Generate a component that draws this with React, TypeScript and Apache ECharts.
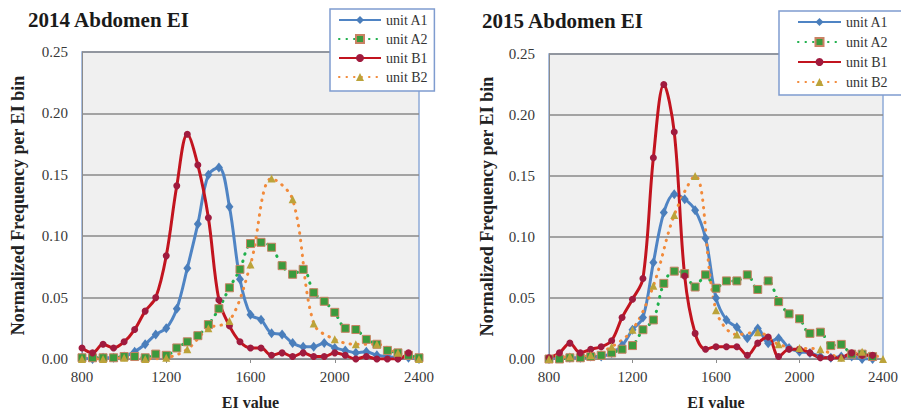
import React, { useEffect, useRef } from "react";
import * as echarts from "echarts";

// Bin centers (EI value)
const xs50 = [800, 850, 900, 950, 1000, 1050, 1100, 1150, 1200, 1250, 1300, 1350, 1400, 1450, 1500, 1550, 1600, 1650, 1700, 1750, 1800, 1850, 1900, 1950, 2000, 2050, 2100, 2150, 2200, 2250, 2300, 2350, 2400];
const xs100 = [800, 900, 1000, 1100, 1200, 1300, 1400, 1500, 1600, 1700, 1800, 1900, 2000, 2100, 2200, 2300, 2400];

const seriesNames = ["unit A1", "unit A2", "unit B1", "unit B2"];
const titles = ["2014 Abdomen EI", "2015 Abdomen EI"];
const xTicks = [800, 1200, 1600, 2000, 2400];
const yTicks = [0, 0.05, 0.1, 0.15, 0.2, 0.25];

// 2014
const a1_2014 = [0.001, 0.000, 0.001, 0.001, 0.002, 0.006, 0.012, 0.020, 0.025, 0.041, 0.074, 0.110, 0.150, 0.156, 0.124, 0.065, 0.036, 0.032, 0.021, 0.020, 0.013, 0.010, 0.010, 0.013, 0.009, 0.007, 0.005, 0.006, 0.003, 0.002, 0.001, 0.001, 0.000];
const a2_2014 = [0.001, 0.001, 0.001, 0.001, 0.002, 0.002, 0.001, 0.004, 0.003, 0.009, 0.014, 0.019, 0.028, 0.041, 0.058, 0.073, 0.094, 0.095, 0.091, 0.076, 0.069, 0.073, 0.054, 0.047, 0.038, 0.025, 0.024, 0.016, 0.012, 0.007, 0.005, 0.003, 0.001];
const b1_2014 = [0.009, 0.005, 0.012, 0.009, 0.014, 0.024, 0.039, 0.050, 0.084, 0.141, 0.183, 0.158, 0.115, 0.048, 0.027, 0.014, 0.009, 0.009, 0.003, 0.005, 0.002, 0.005, 0.002, 0.002, 0.005, 0.003, 0.000, 0.002, 0.000, 0.000, 0.000, 0.005];
const b2_2014 = [0.000, 0.000, 0.001, 0.000, 0.001, 0.008, 0.025, 0.031, 0.077, 0.147, 0.130, 0.029, 0.016, 0.012, 0.012, 0.005, 0.000];

// 2015
const a1_2015 = [0.000, 0.001, 0.001, 0.001, 0.002, 0.002, 0.005, 0.011, 0.024, 0.034, 0.079, 0.120, 0.135, 0.131, 0.122, 0.099, 0.050, 0.032, 0.026, 0.017, 0.025, 0.013, 0.017, 0.009, 0.006, 0.005, 0.002, 0.001, 0.002, 0.002, 0.000, 0.000];
const a2_2015 = [0.000, 0.000, 0.001, 0.001, 0.002, 0.003, 0.005, 0.008, 0.011, 0.024, 0.032, 0.062, 0.072, 0.070, 0.059, 0.069, 0.058, 0.064, 0.064, 0.069, 0.057, 0.064, 0.047, 0.037, 0.033, 0.021, 0.022, 0.011, 0.012, 0.004, 0.004, 0.002];
const b1_2015 = [0.001, 0.005, 0.013, 0.005, 0.008, 0.010, 0.015, 0.034, 0.049, 0.066, 0.165, 0.225, 0.186, 0.068, 0.021, 0.008, 0.010, 0.010, 0.010, 0.003, 0.013, 0.018, 0.002, 0.008, 0.008, 0.005, 0.001, 0.001, 0.001, 0.005, 0.003, 0.003];
const b2_2015 = [0.000, 0.002, 0.003, 0.010, 0.024, 0.060, 0.118, 0.150, 0.040, 0.020, 0.022, 0.012, 0.009, 0.008, 0.001, 0.006, 0.000];

const FONT = "'Liberation Serif', 'Times New Roman', serif";

const pair = (xs: number[], ys: number[]) => ys.map((y, i) => [xs[i], y]);

function makeSeries(idx: number, a1: number[], a2: number[], b1: number[], b2: number[]) {
  const common = {
    type: "line",
    xAxisIndex: idx,
    yAxisIndex: idx,
    smooth: 0.35,
    showSymbol: true,
    animation: false,
    emphasis: { disabled: true },
  };
  return [
    {
      ...common,
      name: seriesNames[0],
      data: pair(xs50, a1),
      symbol: "diamond",
      symbolSize: [8, 10],
      itemStyle: { color: "#4a7ebb" },
      lineStyle: { color: "#4f84c4", width: 3 },
    },
    {
      ...common,
      name: seriesNames[1],
      data: pair(xs50, a2),
      symbol: "rect",
      symbolSize: 8,
      itemStyle: { color: "#3b9a3d", borderColor: "#c98263", borderWidth: 1 },
      lineStyle: { color: "#1fb04c", width: 3, type: [0.5, 7], cap: "round" },
    },
    {
      ...common,
      name: seriesNames[2],
      data: pair(xs50, b1),
      symbol: "circle",
      symbolSize: 7,
      itemStyle: { color: "#a01b3e" },
      lineStyle: { color: "#c2141f", width: 3 },
    },
    {
      ...common,
      name: seriesNames[3],
      data: pair(xs100, b2),
      symbol: "triangle",
      symbolSize: 8,
      itemStyle: { color: "#bba33a" },
      lineStyle: { color: "#f28a3a", width: 3, type: [0.5, 7], cap: "round" },
    },
  ];
}

const grids = [
  { left: 82, top: 52, width: 337, height: 311 },
  { left: 549, top: 54, width: 336, height: 309 },
];

function axisPair(idx: number, yNameGap: number) {
  const xAxis = {
    type: "value",
    gridIndex: idx,
    min: xTicks[0],
    max: xTicks[xTicks.length - 1],
    interval: 400,
    name: "EI value",
    nameLocation: "middle",
    nameGap: 35,
    nameTextStyle: { fontFamily: FONT, fontSize: 16, fontWeight: "bold", color: "#222" },
    axisLine: { show: true, lineStyle: { color: "#8c8c8c", width: 1 } },
    axisTick: { show: true, length: 4, lineStyle: { color: "#8c8c8c" } },
    axisLabel: {
      fontFamily: FONT,
      fontSize: 15,
      color: "#383838",
      margin: 10,
      formatter: (v: number) => String(v),
    },
    splitLine: { show: false },
  };
  const yAxis = {
    type: "value",
    gridIndex: idx,
    min: yTicks[0],
    max: yTicks[yTicks.length - 1],
    interval: 0.05,
    name: "Normalized Frequency per EI bin",
    nameLocation: "middle",
    nameGap: yNameGap,
    nameTextStyle: { fontFamily: FONT, fontSize: 18, fontWeight: "bold", color: "#222" },
    axisLine: { show: true, lineStyle: { color: "#8c8c8c", width: 1 } },
    axisTick: { show: false },
    axisLabel: {
      fontFamily: FONT,
      fontSize: 15,
      color: "#383838",
      margin: 14,
      formatter: (v: number) => v.toFixed(2),
    },
    splitLine: { show: true, lineStyle: { color: "#8a8a8a", width: 1.5 } },
  };
  return { xAxis, yAxis };
}

export default function App() {
  const ref = useRef<HTMLDivElement>(null);
  useEffect(() => {
    if (!ref.current) return;
    const chart = echarts.init(ref.current, undefined, { renderer: "svg" });
    const ax0 = axisPair(0, 55);
    const ax1 = axisPair(1, 53);
    const legendCommon = {
      orient: "vertical",
      data: seriesNames,
      itemHeight: 10,
      backgroundColor: "#ffffff",
      borderColor: "#7f9ccf",
      borderWidth: 1.5,
      borderRadius: 0,
      selectedMode: false,
      textStyle: { fontFamily: FONT, fontSize: 14, color: "#333" },
      z: 10,
    };
    chart.setOption({
      animation: false,
      backgroundColor: "#ffffff",
      title: [
        {
          text: titles[0],
          left: 28,
          top: 9,
          padding: 0,
          textStyle: { fontFamily: FONT, fontSize: 21, fontWeight: "bold", color: "#1a1a1a" },
        },
        {
          text: titles[1],
          left: 482,
          top: 10,
          padding: 0,
          textStyle: { fontFamily: FONT, fontSize: 21, fontWeight: "bold", color: "#1a1a1a" },
        },
      ],
      legend: [
        {
          ...legendCommon,
          left: 330,
          top: 9,
          itemWidth: 42,
          itemGap: 5,
          padding: [4, 6, 7, 8],
        },
        {
          ...legendCommon,
          left: 779,
          top: 11,
          itemWidth: 43,
          itemGap: 6,
          padding: [4, 16, 6, 18],
        },
      ],
      grid: grids.map((g) => ({
        ...g,
        show: true,
        backgroundColor: "#f0f0f0",
        borderColor: "#8eaad8",
        borderWidth: 1.5,
        containLabel: false,
      })),
      xAxis: [ax0.xAxis, ax1.xAxis],
      yAxis: [ax0.yAxis, ax1.yAxis],
      series: [
        ...makeSeries(0, a1_2014, a2_2014, b1_2014, b2_2014),
        ...makeSeries(1, a1_2015, a2_2015, b1_2015, b2_2015),
      ],
    });
    return () => chart.dispose();
  }, []);
  return (
    <div
      ref={ref}
      style={{ position: "absolute", left: 0, top: 0, width: 901, height: 415 }}
    />
  );
}
